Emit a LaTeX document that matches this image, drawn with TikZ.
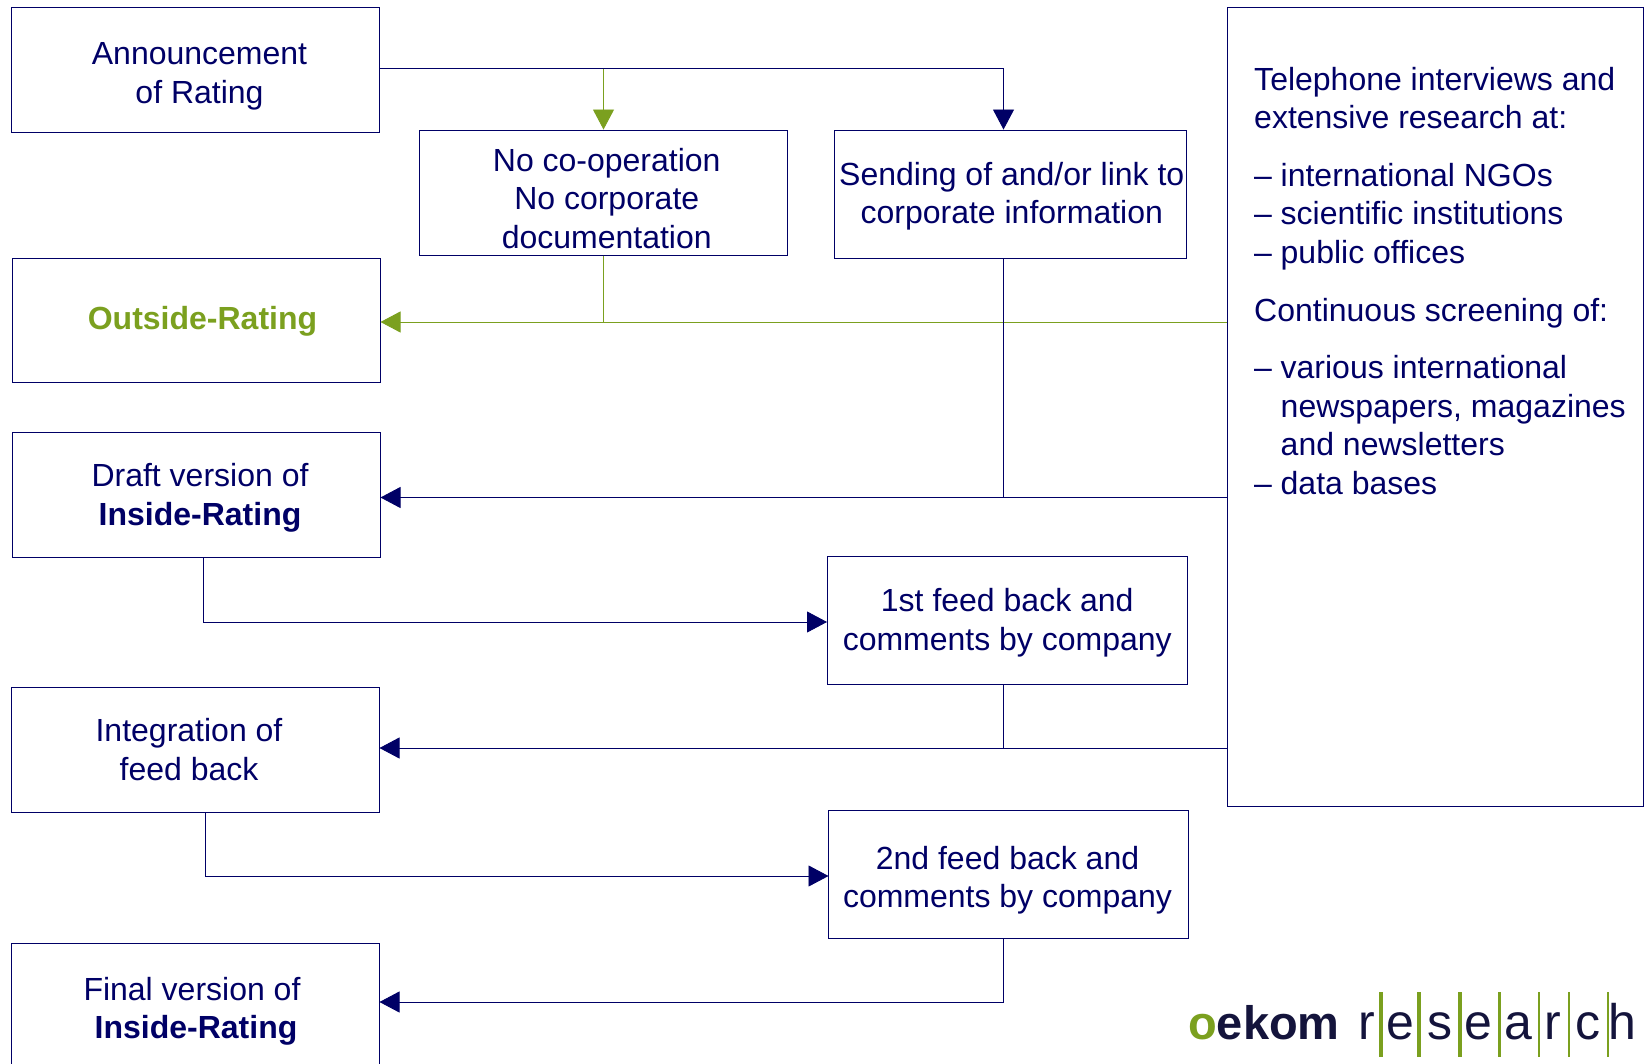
\documentclass[tikz,border=0pt]{standalone}
\usepackage{fontspec}
\setmainfont{Liberation Sans}
\usepackage{xcolor}
\usepackage{tikz}
\usetikzlibrary{positioning,arrows.meta,calc}
\definecolor{navyline}{HTML}{000066}
\definecolor{oekomgreen}{HTML}{7BA01F}
\definecolor{logonavy}{HTML}{14143C}
\newcommand{\boxlabel}[3]{\hspace*{#1}\raisebox{0pt}[\height][\dimexpr\depth-#2\relax]{\begin{tabular}{@{}c@{}}#3\end{tabular}}}
\newcommand{\dashitem}{\makebox[26.5pt][l]{--}}
\newcommand{\dashrest}{\hspace*{26.5pt}}
\tikzset{
  stepbox/.style={rectangle, draw=navyline, line width=0.9pt, text=navyline, inner sep=0pt},
  fwd/.style={-{Triangle[length=20pt,width=21pt]}, draw=navyline, line width=0.9pt},
  fwdgreen/.style={-{Triangle[length=20pt,width=21pt]}, draw=oekomgreen, line width=0.9pt},
  plain/.style={draw=navyline, line width=0.9pt},
  plaingreen/.style={draw=oekomgreen, line width=0.9pt},
  sidetext/.style={text=navyline, align=left, anchor=north west, inner sep=0pt},
  logoletter/.style={text=logonavy, anchor=base, inner sep=0pt, font=\fontsize{50}{50}\selectfont},
}
\begin{document}
\begin{tikzpicture}[x=1pt,y=-1pt,font=\fontsize{32}{38.4}\selectfont]
  \useasboundingbox (0,0) rectangle (1645,1064);

  % left column
  \node[stepbox, minimum width=367.5pt, minimum height=125pt] (announce) at (195.5,69.5)
    {\boxlabel{8pt}{14pt}{Announcement\\of Rating}};
  \node[stepbox, minimum width=367.5pt, minimum height=124.5pt] (outside) at (196.5,320.25)
    {\boxlabel{12pt}{4pt}{\textcolor{oekomgreen}{\textbf{Outside-Rating}}}};
  \node[stepbox, minimum width=367.5pt, minimum height=125pt] (draft) at (196.5,495)
    {\boxlabel{7pt}{7pt}{Draft version of\\\textbf{Inside-Rating}}};
  \node[stepbox, minimum width=367.5pt, minimum height=125pt] (integration) at (195.5,749.5)
    {\boxlabel{-13pt}{8pt}{Integration of\\feed back}};
  \node[stepbox, minimum width=367.5pt, minimum height=130pt] (final) at (195.5,1008)
    {\boxlabel{-3pt}{8pt}{\hspace*{-4pt}Final version of\\\hspace*{4pt}\textbf{Inside-Rating}}};

  % middle column
  \node[stepbox, minimum width=368.5pt, minimum height=125.5pt] (nocoop) at (603.25,192.75)
    {\boxlabel{7pt}{19pt}{No co-operation\\No corporate\\documentation}};
  \node[stepbox, minimum width=352.5pt, minimum height=128pt] (sending) at (1010.25,194)
    {\boxlabel{3pt}{6pt}{Sending of and/or link to\\corporate information}};
  \node[stepbox, minimum width=360.5pt, minimum height=128pt] (first) at (1007.25,620)
    {\boxlabel{0pt}{7pt}{1st feed back and\\comments by company}};
  \node[stepbox, minimum width=360pt, minimum height=128pt] (second) at (1008.5,874)
    {\boxlabel{-2pt}{14pt}{2nd feed back and\\comments by company}};

  % sources on the right
  \node[stepbox, minimum width=416.5pt, minimum height=799pt] (sources) at (1435.25,406.5) {};
  \node[sidetext] (sourcestext) at (1254,67) {Telephone interviews and\\extensive research at:\\[19.4pt]
    \dashitem international NGOs\\\dashitem scientific institutions\\\dashitem public offices\\[19.4pt]
    Continuous screening of:\\[19.4pt]
    \dashitem various international\\\dashrest newspapers, magazines\\\dashrest and newsletters\\\dashitem data bases};

  \coordinate (busa) at (603.5,68.5);
  \coordinate (busb) at (1003.5,68.5);
  \coordinate (outsidein) at (380.5,322);
  \coordinate (draftin) at (380.5,497.5);
  \coordinate (integrationin) at (379.5,748);
  \coordinate (finalin) at (379.5,1002);
  \coordinate (firstin) at (827,622);
  \coordinate (secondin) at (828.5,876);
  \coordinate (draftout) at (203.5,557.5);
  \coordinate (integrationout) at (205.5,812);

  % green paths first, the blue ones run over them
  \draw[fwdgreen] (sources.west |- outsidein) -- (outsidein);
  \draw[plaingreen] (nocoop.south -| busa) -- (busa |- outsidein);
  \draw[fwdgreen] (busa) -- (nocoop.north -| busa);

  \draw[fwd] (announce.east |- busb) -- (busb) -- (sending.north -| busb);
  \draw[plain] (sending.south -| busb) -- (busb |- draftin);
  \draw[fwd] (sources.west |- draftin) -- (draftin);
  \draw[fwd] (draftout) |- (firstin);
  \draw[plain] (first.south -| busb) -- (busb |- integrationin);
  \draw[fwd] (sources.west |- integrationin) -- (integrationin);
  \draw[fwd] (integrationout) |- (secondin);
  \draw[fwd] (second.south -| busb) |- (finalin);

  % logo
  \node[anchor=base west, inner sep=0pt, text=logonavy, font=\fontsize{47}{47}\selectfont\bfseries] (oekom) at (1188,1039)
    {\textcolor{oekomgreen}{o}ekom};
  \foreach \i/\x/\c in {1/1366.7/r,2/1400/e,3/1440/s,4/1478/e,5/1518/a,6/1553/r,7/1588/c,8/1622/h}
    \node[logoletter] (letter\i) at (\x,1039) {\c};
  \foreach \x/\w in {1381/4,1419/3.5,1460/3.5,1499/3,1539/2.5,1569/2,1608/1.5}
    \draw[oekomgreen, line width=\w pt] (\x,992) -- (\x,1057);
\end{tikzpicture}
\end{document}
